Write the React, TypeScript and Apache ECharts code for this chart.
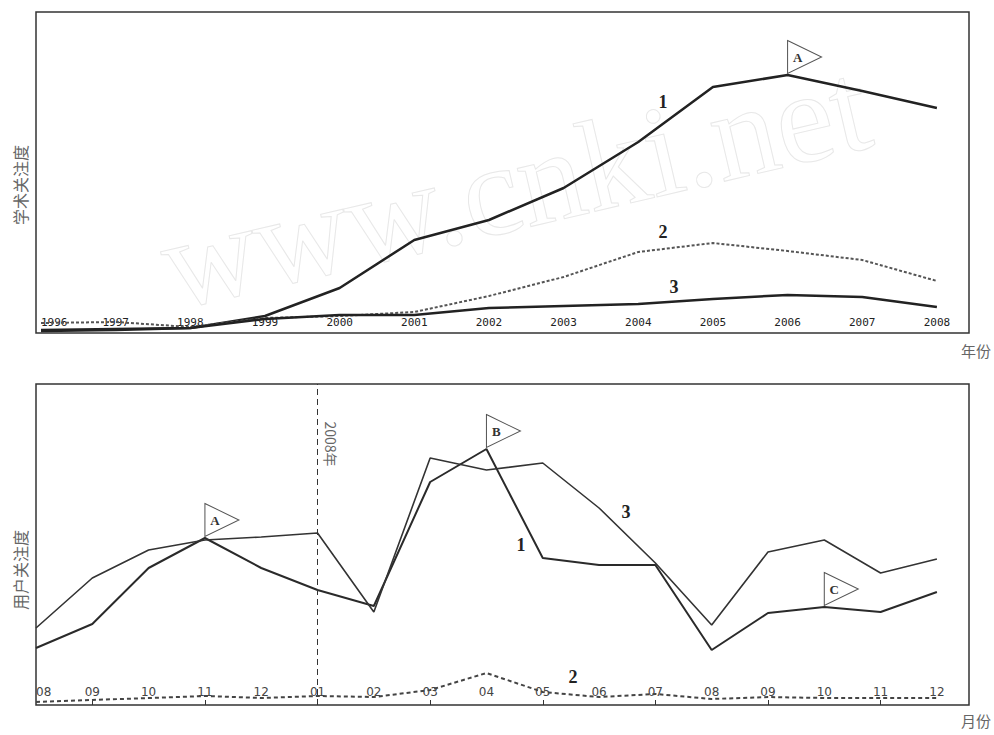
import React, { useEffect, useRef } from "react";
import * as echarts from "echarts";

// ---- Top chart: academic attention by year ----
const years = ["1996", "1997", "1998", "1999", "2000", "2001", "2002", "2003", "2004", "2005", "2006", "2007", "2008"];
const academic1 = [3, 4, 5, 17, 45, 93, 113, 145, 191, 246, 258, 242, 225];
const academic2 = [10, 11, 6, 15, 17, 21, 37, 56, 81, 90, 82, 73, 52];
const academic3 = [2, 3, 5, 14, 18, 18, 25, 27, 29, 34, 38, 36, 26];

// ---- Bottom chart: user attention by month (2007-08 .. 2008-12) ----
const months = ["08", "09", "10", "11", "12", "01", "02", "03", "04", "05", "06", "07", "08", "09", "10", "11", "12"];
const user1 = [57, 81, 137, 167, 137, 115, 99, 223, 256, 147, 140, 140, 55, 92, 98, 93, 113];
const user2 = [3, 5, 7, 9, 7, 9, 8, 15, 32, 13, 8, 11, 6, 8, 7, 7, 7];
const user3 = [77, 127, 155, 165, 168, 172, 93, 247, 235, 242, 197, 142, 80, 153, 165, 132, 146];

const yearFlags = [{ name: "A", index: 10 }];
const userFlags = [
  { name: "A", index: 3 },
  { name: "B", index: 8 },
  { name: "C", index: 14 },
];

const pairs = (arr: number[]) => arr.map((v, i) => [i, v]);

const flagSymbol = "path://M0,0 L34,16.5 L0,33 Z";
const flagMark = (flags: { name: string; index: number }[], arr: number[]) => ({
  symbol: flagSymbol,
  symbolSize: [34, 33],
  symbolOffset: [17, -18],
  itemStyle: { color: "#fff", borderColor: "#555", borderWidth: 1 },
  label: {
    show: true,
    position: "inside",
    offset: [-7, 0],
    formatter: (p: any) => p.name,
    fontFamily: "Liberation Serif",
    fontWeight: "bold",
    fontSize: 13,
    color: "#333",
  },
  data: flags.map((f) => ({ name: f.name, coord: [f.index, arr[f.index]] })),
});

const numText = (t: string, x: number, y: number) => ({
  type: "text",
  x,
  y,
  style: {
    text: t,
    font: 'bold 18px "Liberation Serif"',
    fill: "#222",
    align: "center",
    verticalAlign: "middle",
  },
  z: 10,
});

const grayText = (t: string, x: number, y: number, rotation = 0, size = 15) => ({
  type: "text",
  x,
  y,
  rotation,
  style: {
    text: t,
    font: `${size}px "Noto Sans CJK SC"`,
    fill: "#666",
    align: "center",
    verticalAlign: "middle",
  },
  z: 10,
});

export default function App() {
  const ref = useRef<HTMLDivElement>(null);
  useEffect(() => {
    const chart = echarts.init(ref.current!, null, { renderer: "svg" });
    const option: any = {
      animation: false,
      backgroundColor: "#fff",
      grid: [
        { left: 36, right: 25, top: 12, height: 321, show: true, borderColor: "#333", borderWidth: 1.5 },
        { left: 36, right: 25, top: 384, height: 321, show: true, borderColor: "#333", borderWidth: 1.5 },
      ],
      xAxis: [
        {
          type: "value",
          gridIndex: 0,
          min: -0.067,
          max: 12.43,
          axisLine: { show: false },
          axisTick: { show: false },
          splitLine: { show: false },
          axisLabel: {
            inside: true,
            margin: 5,
            customValues: years.map((_, i) => i),
            formatter: (v: number) => years[Math.round(v)] ?? "",
            fontFamily: "DejaVu Sans Mono",
            fontSize: 11,
            color: "#222",
            alignMinLabel: "left",
          },
        },
        {
          type: "value",
          gridIndex: 1,
          min: 0,
          max: 16.57,
          axisLine: { show: false },
          axisTick: {
            show: true,
            inside: true,
            length: 5,
            customValues: [1, 3, 5, 7, 9, 11, 13, 15],
            lineStyle: { color: "#333" },
          },
          splitLine: { show: false },
          axisLabel: {
            inside: true,
            margin: 7,
            customValues: months.map((_, i) => i),
            formatter: (v: number) => months[Math.round(v)] ?? "",
            fontFamily: "DejaVu Sans",
            fontSize: 12,
            color: "#444",
            alignMinLabel: "left",
          },
        },
      ],
      yAxis: [
        { type: "value", gridIndex: 0, min: 0, max: 321, show: false },
        { type: "value", gridIndex: 1, min: 0, max: 321, show: false },
      ],
      series: [
        {
          type: "line",
          xAxisIndex: 0,
          yAxisIndex: 0,
          data: pairs(academic1),
          symbol: "none",
          lineStyle: { color: "#222", width: 2.5 },
          markPoint: flagMark(yearFlags, academic1),
        },
        {
          type: "line",
          xAxisIndex: 0,
          yAxisIndex: 0,
          data: pairs(academic2),
          symbol: "none",
          lineStyle: { color: "#555", width: 2, type: [3, 2] },
        },
        {
          type: "line",
          xAxisIndex: 0,
          yAxisIndex: 0,
          data: pairs(academic3),
          symbol: "none",
          lineStyle: { color: "#222", width: 2.5 },
        },
        {
          type: "line",
          xAxisIndex: 1,
          yAxisIndex: 1,
          data: pairs(user1),
          symbol: "none",
          lineStyle: { color: "#2a2a2a", width: 2 },
          markPoint: flagMark(userFlags, user1),
          markLine: {
            silent: true,
            symbol: "none",
            label: { show: false },
            lineStyle: { color: "#333", width: 1, type: [6, 4] },
            data: [{ xAxis: 5 }],
          },
        },
        {
          type: "line",
          xAxisIndex: 1,
          yAxisIndex: 1,
          data: pairs(user2),
          symbol: "none",
          lineStyle: { color: "#444", width: 2, type: [4, 3] },
        },
        {
          type: "line",
          xAxisIndex: 1,
          yAxisIndex: 1,
          data: pairs(user3),
          symbol: "none",
          lineStyle: { color: "#333", width: 1.6 },
        },
      ],
      graphic: [
        {
          type: "text",
          x: 515,
          y: 185,
          rotation: 0.23,
          silent: true,
          z: 0,
          style: {
            text: "www.cnki.net",
            font: '130px "Liberation Serif"',
            fill: "rgba(0,0,0,0)",
            stroke: "#e8e8e8",
            lineWidth: 1,
            align: "center",
            verticalAlign: "middle",
          },
        },
        numText("1", 663, 102),
        numText("2", 663, 232),
        numText("3", 674, 287),
        numText("1", 521, 545),
        numText("3", 626, 512),
        numText("2", 573, 677),
        grayText("学术关注度", 20, 185, Math.PI / 2, 16),
        grayText("用户关注度", 20, 570, Math.PI / 2, 16),
        grayText("年份", 976, 350, 0, 15),
        grayText("月份", 976, 720, 0, 15),
        grayText("2008年", 331, 444, -Math.PI / 2, 14),
      ],
    };
    chart.setOption(option);
    return () => chart.dispose();
  }, []);
  return (
    <div
      ref={ref}
      style={{ position: "fixed", left: 0, top: 0, width: 994, height: 735, background: "#fff" }}
    />
  );
}
